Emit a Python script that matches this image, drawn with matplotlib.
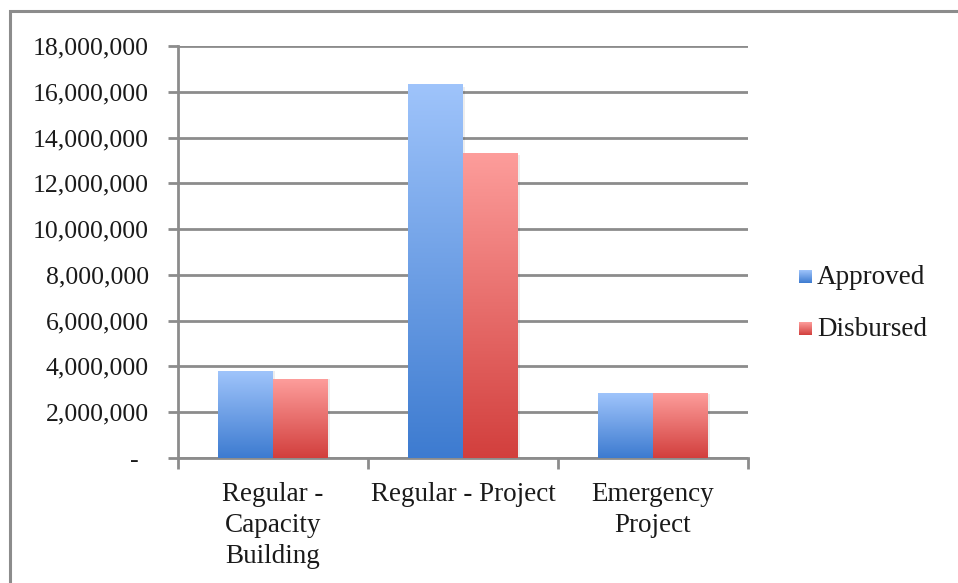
import numpy as np
import matplotlib
matplotlib.use("Agg")
import matplotlib.pyplot as plt
from matplotlib.colors import LinearSegmentedColormap
from matplotlib.patches import Rectangle
from matplotlib.ticker import FuncFormatter
from matplotlib.transforms import ScaledTranslation

categories = ["Regular -\nCapacity\nBuilding", "Regular - Project", "Emergency\nProject"]
approved = [3800000, 16300000, 2830000]
disbursed = [3450000, 13320000, 2830000]
series_names = ["Approved", "Disbursed"]

plt.rcParams["font.family"] = ["Liberation Serif", "DejaVu Serif"]

fig = plt.figure(figsize=(9.58, 5.83), dpi=100)
ax = fig.add_axes([178 / 958, 1 - 458 / 583, 570 / 958, 412 / 583])

# outer chart frame (cut off at right and bottom like the reference)
fig.patches.append(Rectangle((10 / 958, -0.1), 1.2, 1 - 11 / 583 + 0.1,
                             transform=fig.transFigure, fill=False,
                             edgecolor="#8c8c8c", linewidth=2.2, zorder=0))

blue = LinearSegmentedColormap.from_list("b", ["#3d7bd0", "#9fc4fb"])
red = LinearSegmentedColormap.from_list("r", ["#d23f3d", "#fd9d9b"])
grad = np.linspace(0, 1, 256).reshape(-1, 1)

x = np.arange(len(categories))
w = 0.287
ax.set_xlim(-0.5, len(categories) - 0.5)
ax.set_ylim(0, 18000000)

for vals, cmap, off in [(approved, blue, -w / 2), (disbursed, red, w / 2)]:
    for xi, v in zip(x, vals):
        l, r = xi + off - w / 2, xi + off + w / 2
        # faint shadow
        ax.add_patch(Rectangle((r, 0), 0.012, v * 0.995, facecolor="#000000",
                               alpha=0.07, linewidth=0, zorder=2))
        ax.imshow(grad, extent=(l, r, 0, v), origin="lower", cmap=cmap,
                  aspect="auto", zorder=3, interpolation="bilinear")

ax.set_yticks(np.arange(0, 18000001, 2000000))
ax.yaxis.set_major_formatter(FuncFormatter(lambda v, p: "-" if v == 0 else f"{int(v):,}"))
ax.grid(axis="y", color="#8c8c8c", linewidth=2.0, zorder=1)
ax.set_axisbelow(True)

ax.set_xticks([-0.5, 0.5, 1.5, 2.5])
ax.set_xticklabels([])
ax.tick_params(axis="x", length=8, width=2, color="#8c8c8c")
ax.tick_params(axis="y", length=7, width=2, color="#8c8c8c", labelsize=18.5,
               pad=14, colors="#8c8c8c", labelcolor="#1a1a1a")

# Excel accounting dash for zero sits a little left of the digits' edge
fig.canvas.draw()
zero_lab = ax.get_yticklabels()[0]
zero_lab.set_transform(zero_lab.get_transform() +
                       ScaledTranslation(-0.10, 0, fig.dpi_scale_trans))

for i, lab in enumerate(categories):
    ax.text(i, -0.058, lab, transform=ax.get_xaxis_transform(), ha="center",
            va="top", fontsize=19.5, color="#1a1a1a", linespacing=1.33)

for s in ["top", "right"]:
    ax.spines[s].set_visible(False)
for s in ["left", "bottom"]:
    ax.spines[s].set_color("#8c8c8c")
    ax.spines[s].set_linewidth(2.0)

# legend
for name, cmap, yc in [(series_names[0], blue, 277), (series_names[1], red, 329)]:
    lax = fig.add_axes([799 / 958, 1 - (yc + 6) / 583, 13 / 958, 13 / 583])
    lax.imshow(grad, origin="lower", cmap=cmap, aspect="auto", extent=(0, 1, 0, 1))
    lax.axis("off")
    fig.text(817 / 958, 1 - yc / 583, name, fontsize=19.5, va="center",
             ha="left", color="#1a1a1a")

fig.savefig("out.png", dpi=100)
